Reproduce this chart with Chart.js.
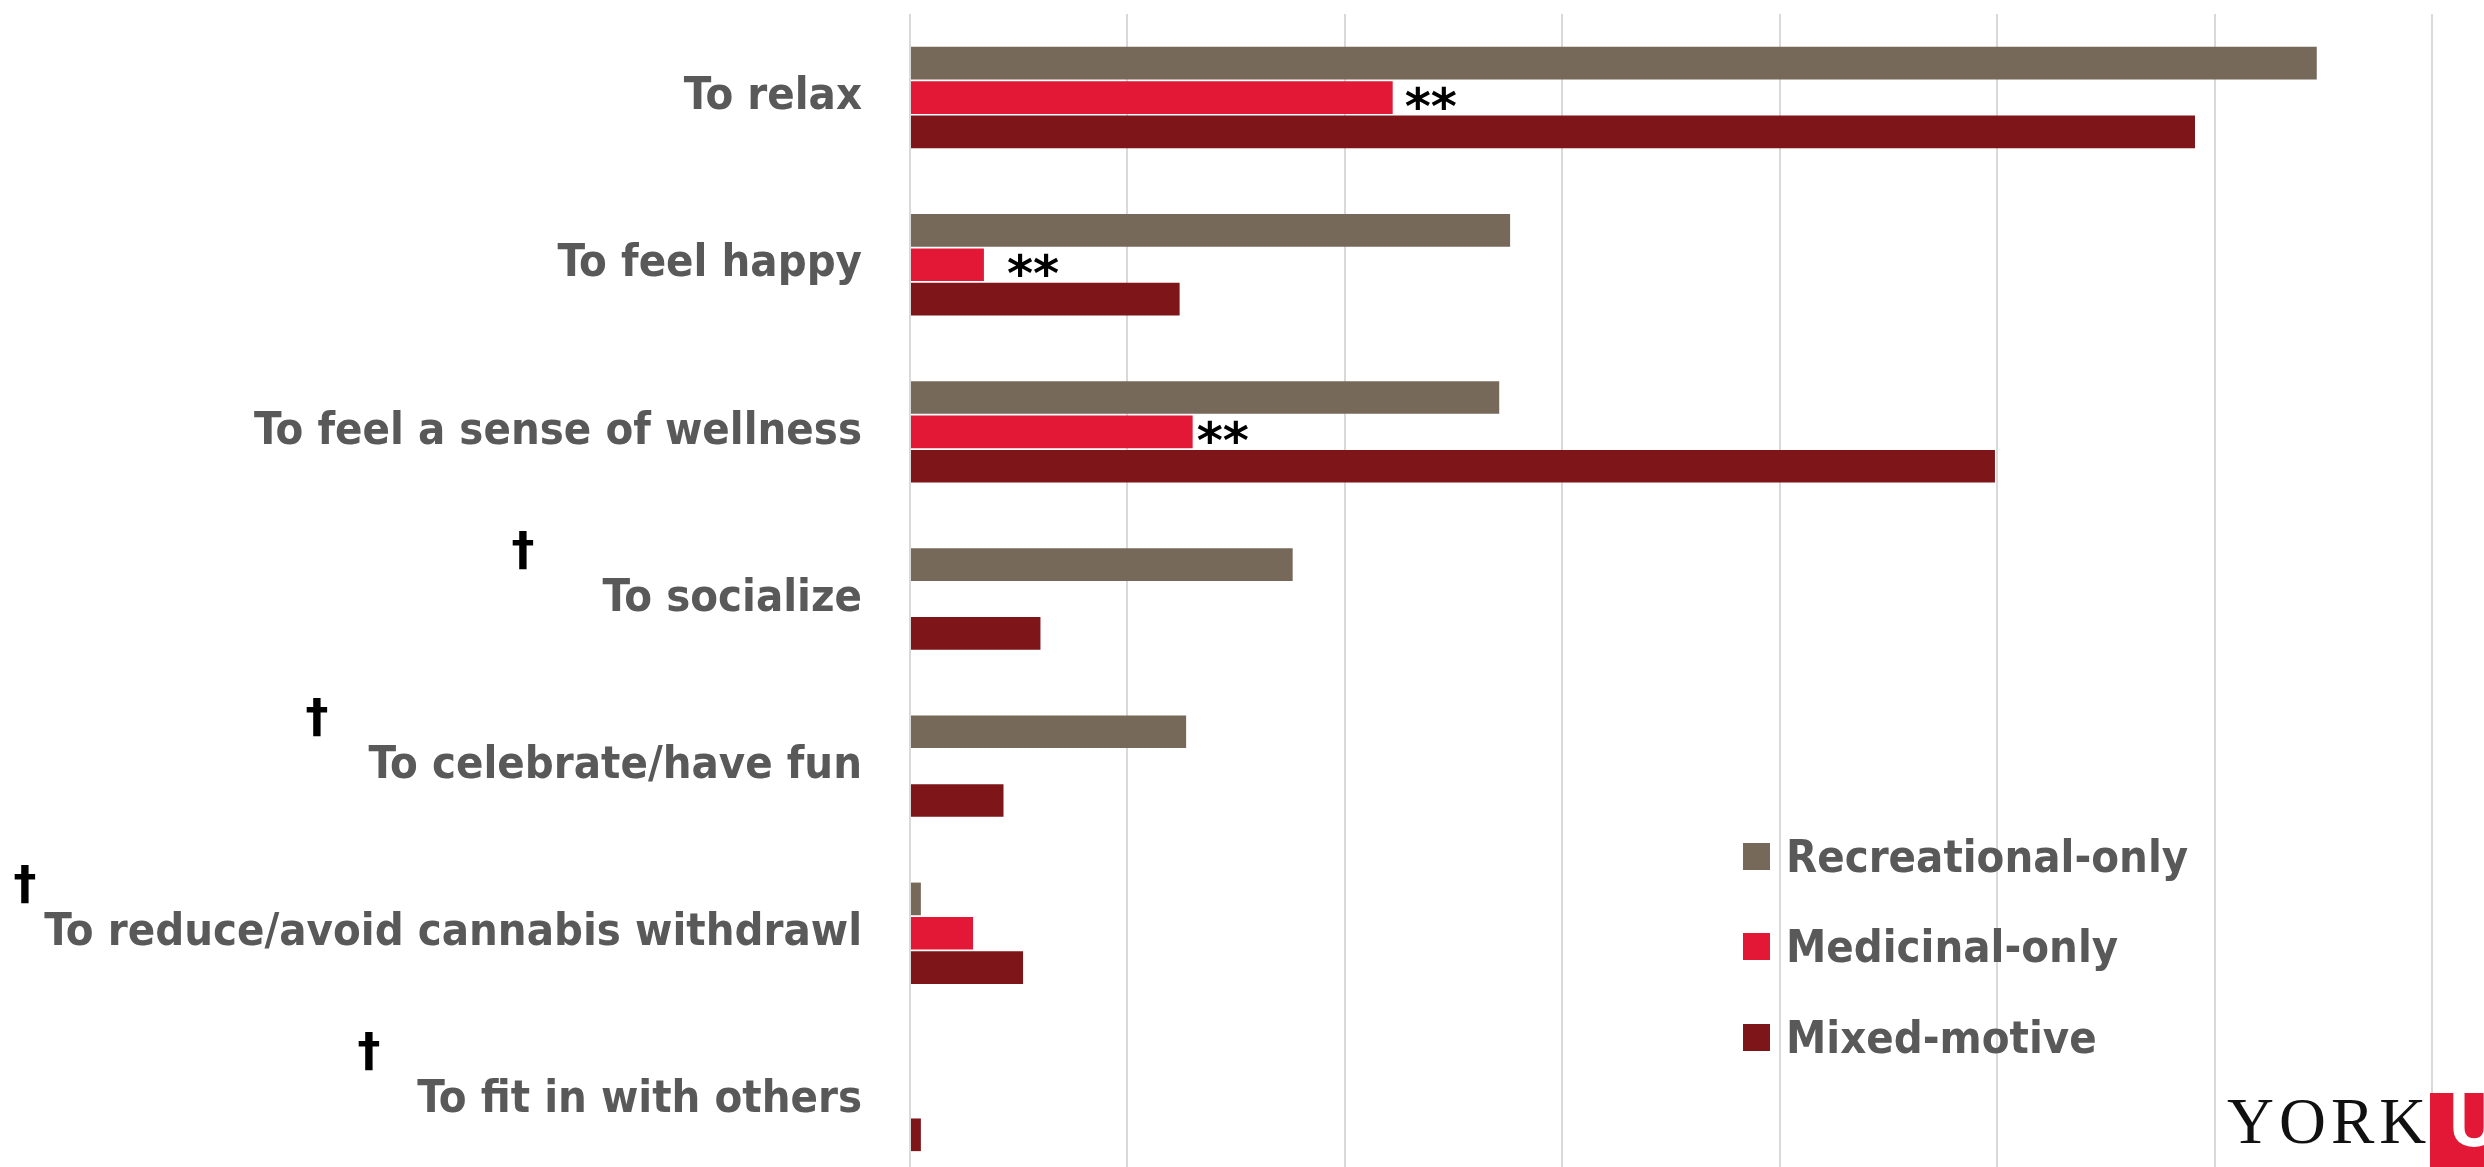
<!DOCTYPE html>
<html><head><meta charset="utf-8">
<script src="https://cdn.jsdelivr.net/npm/chart.js@4"></script>
<style>html,body{margin:0;padding:0;overflow:hidden;background:#fff}#wrap{position:absolute;left:0;top:0;width:2484px;height:1184px}</style>
</head><body><div id="wrap"><canvas id="c"></canvas></div>
<script>
const categories = ["To relax","To feel happy","To feel a sense of wellness","To socialize","To celebrate/have fun","To reduce/avoid cannabis withdrawl","To fit in with others"];
const seriesNames = ["Recreational-only","Medicinal-only","Mixed-motive"];
const recreational = [64.7,27.6,27.1,17.6,12.7,0.5,0];
const medicinal = [22.2,3.4,13.0,0,0,2.9,0];
const mixed = [59.1,12.4,49.9,6.0,4.3,5.2,0.5];
const xTicks = [0,10,20,30,40,50,60,70];
const significance = ["**","**","**","","","",""];
const daggers = ["","","","\u2020","\u2020","\u2020","\u2020"];
const colors = ['#77695A','#E31837','#7E1518'];

const LABEL_FONT = "'DejaVu Sans Condensed', 'DejaVu Sans', sans-serif";

const annotations = {
  id:'annotations',
  afterDraw(chart, args, o){
    const ctx = chart.ctx, xs = chart.scales.x, ys = chart.scales.y;
    ctx.save();
    const medMeta = chart.getDatasetMeta(1);
    ctx.fillStyle = '#000';
    ctx.font = 'bold 50px DejaVu Sans';
    ctx.textAlign = 'left'; ctx.textBaseline = 'alphabetic';
    significance.forEach((s,i)=>{
      if(!s) return;
      const bar = medMeta.data[i];
      ctx.fillText(s, xs.getPixelForValue(medicinal[i]) + o.starGap[i], bar.y + 26);
    });
    ctx.font = 'bold 46px DejaVu Sans';
    ctx.textAlign = 'center';
    daggers.forEach((d,i)=>{
      if(!d) return;
      ctx.fillText(d, o.daggerX[i], ys.getPixelForValue(i) - 51 + 17);
    });
    ctx.textAlign = 'left';
    ctx.font = 'bold 45px ' + LABEL_FONT;
    chart.data.datasets.forEach((ds,i)=>{
      const cy = o.legendY[i];
      ctx.fillStyle = ds.backgroundColor;
      ctx.fillRect(o.legendX, cy - 13, 27, 27);
      ctx.fillStyle = '#595959';
      ctx.fillText(ds.label, o.legendX + 43, cy + 16);
    });
    ctx.fillStyle = '#111';
    ctx.font = '65px Liberation Serif';
    ctx.letterSpacing = '5px';
    ctx.fillText('YORK', 2227, 1143);
    ctx.letterSpacing = '0px';
    ctx.fillStyle = '#E31837';
    ctx.fillRect(2430, 1093, 60, 80);
    ctx.save();
    ctx.beginPath(); ctx.rect(2430,1093,60,80); ctx.clip();
    ctx.fillStyle = '#fff';
    ctx.font = 'bold 76px Roboto';
    ctx.fillText('U', 2449, 1146);
    ctx.restore();
    ctx.restore();
  }
};

new Chart(document.getElementById('c'), {
  type:'bar',
  data:{
    labels: categories,
    datasets:[
      {label:seriesNames[0], data:recreational, backgroundColor:colors[0]},
      {label:seriesNames[1], data:medicinal, backgroundColor:colors[1]},
      {label:seriesNames[2], data:mixed, backgroundColor:colors[2]}
    ].map(d=>Object.assign(d,{barPercentage:0.95, categoryPercentage:0.617}))
  },
  options:{
    indexAxis:'y', responsive:true, maintainAspectRatio:false, animation:false, devicePixelRatio:1,
    layout:{padding:{top:14,right:52,left:0,bottom:0}},
    plugins:{legend:{display:false}, tooltip:{enabled:false},
      annotations:{starGap:[12,23,4,0,0,0,0], daggerX:[0,0,0,523,317,25,369], legendX:1743, legendY:[856,946,1037]}},
    scales:{
      x:{min:xTicks[0], max:xTicks[xTicks.length-1], ticks:{display:false, stepSize:xTicks[1]-xTicks[0]},
         grid:{color:'#d9d9d9', lineWidth:2, drawTicks:false}, border:{display:false},
         afterFit:s=>{s.height=0; s.paddingLeft=0; s.paddingRight=0;}},
      y:{grid:{display:false, drawTicks:false}, border:{display:false},
         ticks:{color:'#595959', font:{family:LABEL_FONT, weight:'bold', size:45}, padding:48},
         afterFit:s=>{s.width=910; s.paddingTop=0; s.paddingBottom=0;}}
    }
  },
  plugins:[annotations]
});
</script>
</body></html>
